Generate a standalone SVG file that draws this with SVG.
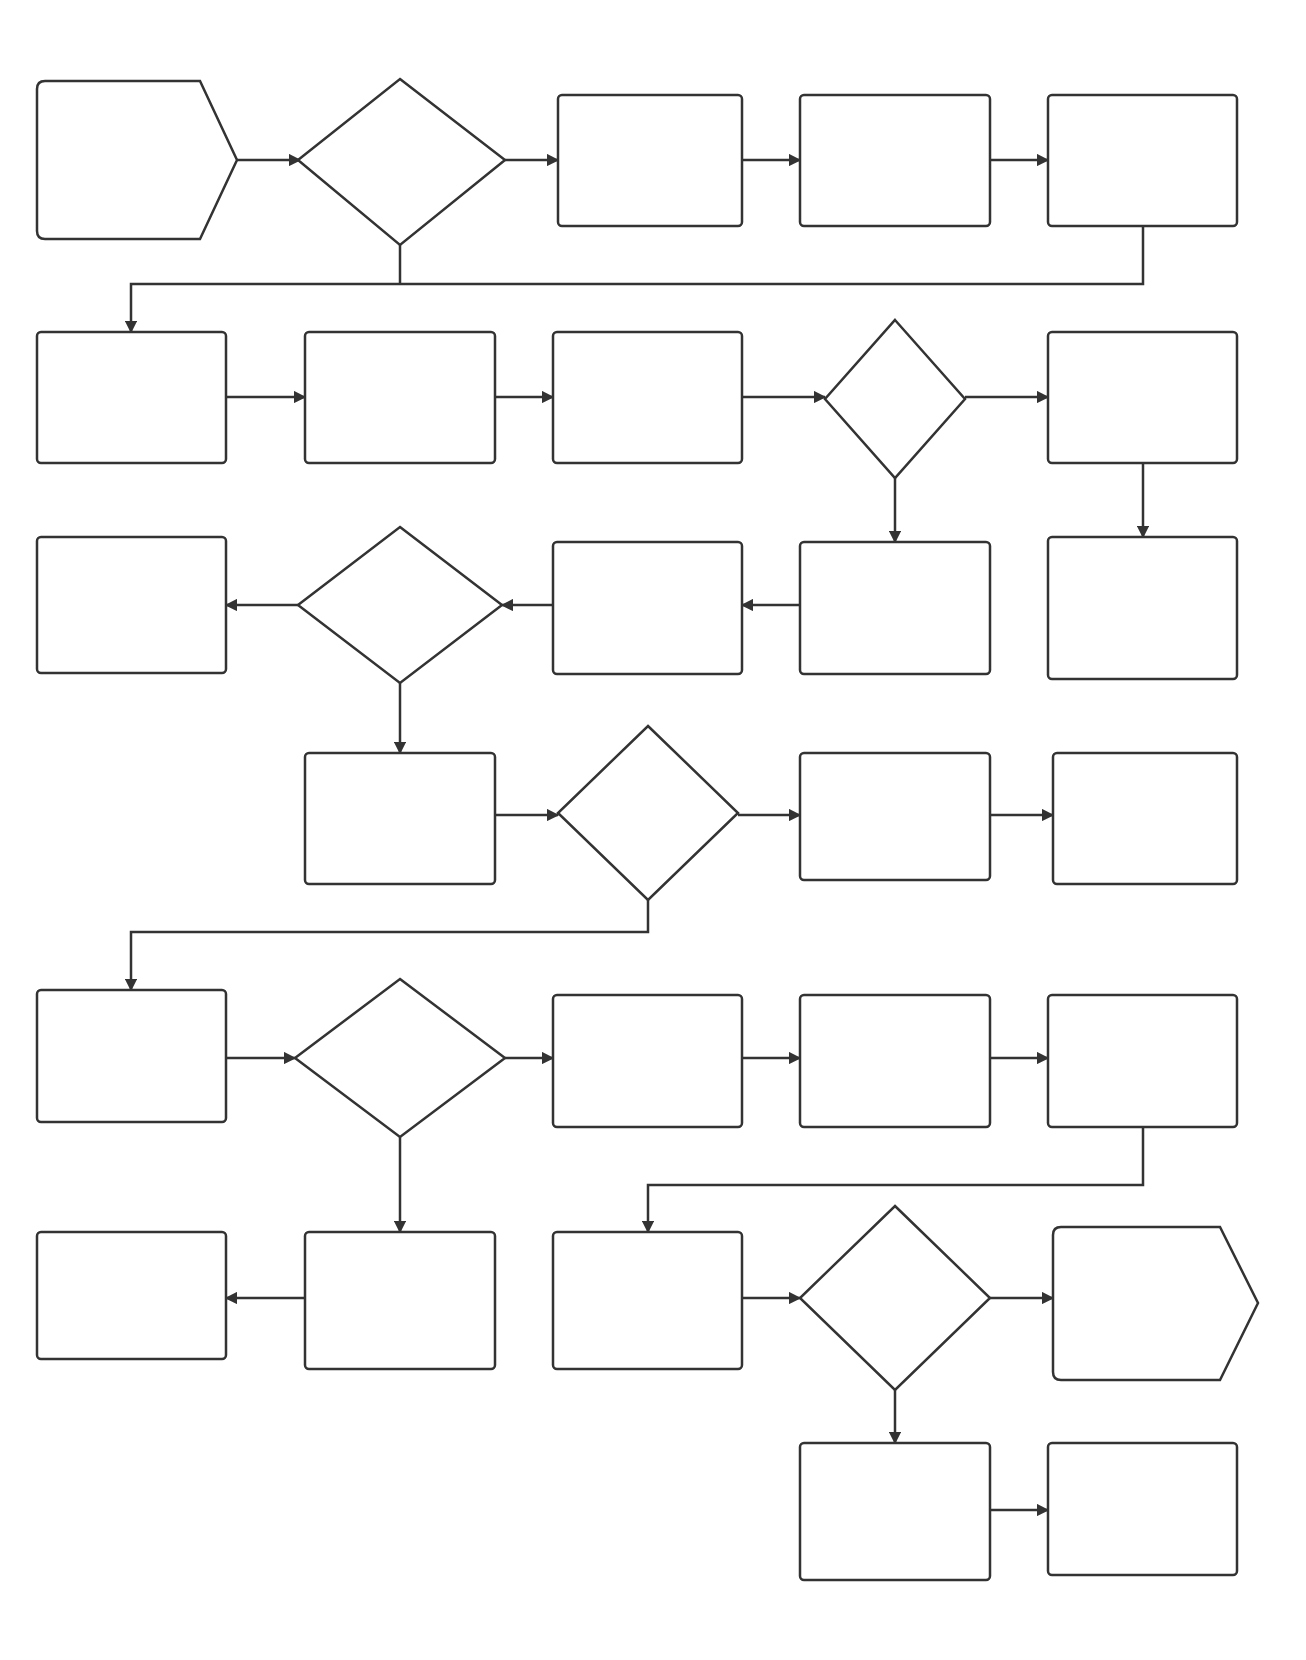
<svg xmlns="http://www.w3.org/2000/svg" width="1306" height="1660" viewBox="0 0 1306 1660">
<defs>
<style>
.n{fill:#fff;stroke:#333;stroke-width:2.5}
.c{fill:none;stroke:#333;stroke-width:2.5}
.a{marker-end:url(#ah)}
</style>
<marker id="ah" viewBox="0 0 10 10" refX="9" refY="5" markerWidth="5" markerHeight="5" orient="auto-start-reverse">
<path d="M0,0 L10,5 L0,10 Z" fill="#333"/>
</marker>
</defs>
<rect width="1306" height="1660" fill="#fff"/>
<g id="connectors">
<!-- row 1 -->
<path class="c a" d="M237,160 H300"/>
<path class="c a" d="M505,160 H558"/>
<path class="c a" d="M742,160 H800"/>
<path class="c a" d="M990,160 H1048"/>
<path class="c" d="M400,245 V284"/>
<path class="c a" d="M1143,226 V284 H131 V332"/>
<!-- row 2 -->
<path class="c a" d="M226,397 H305"/>
<path class="c a" d="M495,397 H553"/>
<path class="c a" d="M742,397 H825"/>
<path class="c a" d="M965,397 H1048"/>
<path class="c a" d="M895,478 V542"/>
<path class="c a" d="M1143,463 V537"/>
<!-- row 3 -->
<path class="c a" d="M800,605 H742"/>
<path class="c a" d="M553,605 H502"/>
<path class="c a" d="M298,605 H226"/>
<path class="c a" d="M400,683 V753"/>
<!-- row 4 -->
<path class="c a" d="M495,815 H558"/>
<path class="c a" d="M738,815 H800"/>
<path class="c a" d="M990,815 H1053"/>
<path class="c a" d="M648,900 V932 H131 V990"/>
<!-- row 5 -->
<path class="c a" d="M226,1058 H295"/>
<path class="c a" d="M505,1058 H553"/>
<path class="c a" d="M742,1058 H800"/>
<path class="c a" d="M990,1058 H1048"/>
<path class="c a" d="M400,1137 V1232"/>
<path class="c a" d="M1143,1127 V1185 H648 V1232"/>
<!-- row 6 -->
<path class="c a" d="M305,1298 H226"/>
<path class="c a" d="M742,1298 H800"/>
<path class="c a" d="M990,1298 H1053"/>
<path class="c a" d="M895,1390 V1443"/>
<!-- row 7 -->
<path class="c a" d="M990,1510 H1048"/>
</g>
<g id="n1"><path class="n" d="M45,81 H200 L237,160 L200,239 H45 Q37,239 37,231 V89 Q37,81 45,81 Z"/></g>
<g id="d1"><path class="n" d="M400,79 L505,160 L400,245 L298,160 Z"/></g>
<g id="n3"><rect class="n" x="558" y="95" width="184" height="131" rx="4"/></g>
<g id="n4"><rect class="n" x="800" y="95" width="190" height="131" rx="4"/></g>
<g id="n5"><rect class="n" x="1048" y="95" width="189" height="131" rx="4"/></g>

<g id="n6"><rect class="n" x="37" y="332" width="189" height="131" rx="4"/></g>
<g id="n7"><rect class="n" x="305" y="332" width="190" height="131" rx="4"/></g>
<g id="n8"><rect class="n" x="553" y="332" width="189" height="131" rx="4"/></g>
<g id="d2"><path class="n" d="M895,320 L965,399 L895,478 L825,399 Z"/></g>
<g id="n9"><rect class="n" x="1048" y="332" width="189" height="131" rx="4"/></g>

<g id="n10"><rect class="n" x="37" y="537" width="189" height="136" rx="4"/></g>
<g id="d3"><path class="n" d="M400,527 L502,605 L400,683 L298,605 Z"/></g>
<g id="n11"><rect class="n" x="553" y="542" width="189" height="132" rx="4"/></g>
<g id="n12"><rect class="n" x="800" y="542" width="190" height="132" rx="4"/></g>
<g id="n13"><rect class="n" x="1048" y="537" width="189" height="142" rx="4"/></g>

<g id="n15"><rect class="n" x="305" y="753" width="190" height="131" rx="4"/></g>
<g id="d4"><path class="n" d="M648,726 L738,813 L648,900 L558,813 Z"/></g>
<g id="n16"><rect class="n" x="800" y="753" width="190" height="127" rx="4"/></g>
<g id="n17"><rect class="n" x="1053" y="753" width="184" height="131" rx="4"/></g>

<g id="n18"><rect class="n" x="37" y="990" width="189" height="132" rx="4"/></g>
<g id="d5"><path class="n" d="M400,979 L505,1058 L400,1137 L295,1058 Z"/></g>
<g id="n19"><rect class="n" x="553" y="995" width="189" height="132" rx="4"/></g>
<g id="n20"><rect class="n" x="800" y="995" width="190" height="132" rx="4"/></g>
<g id="n21"><rect class="n" x="1048" y="995" width="189" height="132" rx="4"/></g>

<g id="n22"><rect class="n" x="37" y="1232" width="189" height="127" rx="4"/></g>
<g id="n23"><rect class="n" x="305" y="1232" width="190" height="137" rx="4"/></g>
<g id="n24"><rect class="n" x="553" y="1232" width="189" height="137" rx="4"/></g>
<g id="d6"><path class="n" d="M895,1206 L990,1298 L895,1390 L800,1298 Z"/></g>
<g id="n25"><path class="n" d="M1061,1227 H1220 L1258,1303 L1220,1380 H1061 Q1053,1380 1053,1372 V1235 Q1053,1227 1061,1227 Z"/></g>

<g id="n26"><rect class="n" x="800" y="1443" width="190" height="137" rx="4"/></g>
<g id="n27"><rect class="n" x="1048" y="1443" width="189" height="132" rx="4"/></g>
</svg>
